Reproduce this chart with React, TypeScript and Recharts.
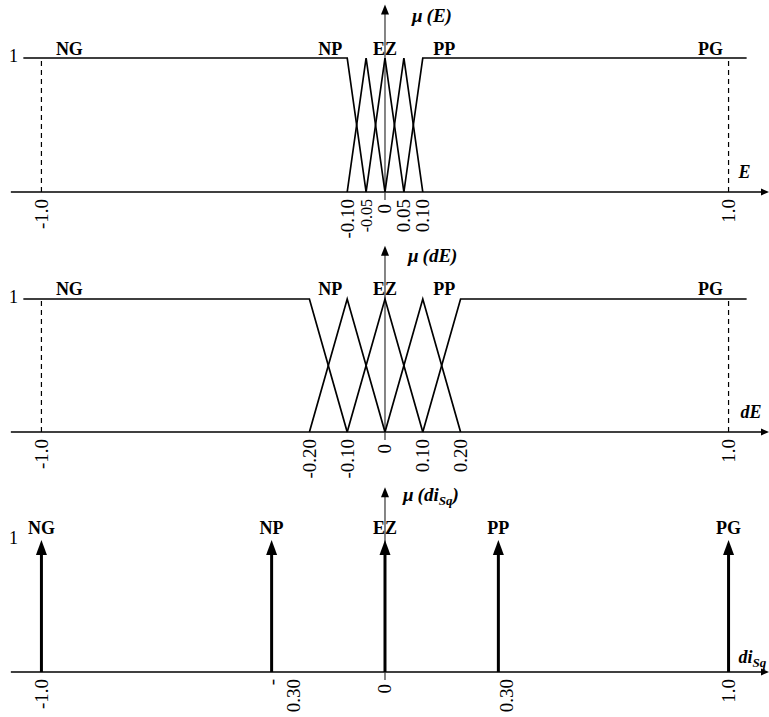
import React from 'react';
import { LineChart, Line, XAxis, YAxis, ReferenceLine, ReferenceDot } from 'recharts';

const SERIF = '"Liberation Serif", "Times New Roman", Times, serif';
const INK = '#000';

// Linguistic terms shared by the three universes
const TERMS = ['NG', 'NP', 'EZ', 'PP', 'PG'];

type Pt = { x: number; y: number };
const pts = (xs: number[], mu: number[]): Pt[] => xs.map((x, i) => ({ x, y: mu[i] }));

// Error E: breakpoints / membership grades of each set
const E_NG = pts([-1.055, -0.1, -0.05], [1, 1, 0]);
const E_NP = pts([-0.1, -0.05, 0], [0, 1, 0]);
const E_EZ = pts([-0.05, 0, 0.05], [0, 1, 0]);
const E_PP = pts([0, 0.05, 0.1], [0, 1, 0]);
const E_PG = pts([0.05, 0.1, 1.055], [0, 1, 1]);
const E_TICKS = [-1, -0.1, -0.05, 0, 0.05, 0.1, 1];
const E_TICK_LABELS = ['-1.0', '-0.10', '-0.05', '0', '0.05', '0.10', '1.0'];

// Change of error dE
const DE_NG = pts([-1.055, -0.2, -0.1], [1, 1, 0]);
const DE_NP = pts([-0.2, -0.1, 0], [0, 1, 0]);
const DE_EZ = pts([-0.1, 0, 0.1], [0, 1, 0]);
const DE_PP = pts([0, 0.1, 0.2], [0, 1, 0]);
const DE_PG = pts([0.1, 0.2, 1.055], [0, 1, 1]);
const DE_TICKS = [-1, -0.2, -0.1, 0, 0.1, 0.2, 1];
const DE_TICK_LABELS = ['-1.0', '-0.20', '-0.10', '0', '0.10', '0.20', '1.0'];

// Output di_Sq: singletons
const DI_X = [-1, -0.3, 0, 0.3, 1];
const DI_MU = [1, 1, 1, 1, 1];
const DI_TICKS = [-1, -0.3, 0, 0.3, 1];
const DI_TICK_LABELS = ['-1.0', '-\n0.30', '0', '0.30', '1.0'];
const DI_POINTS = pts(DI_X, DI_MU);

// ---- layout / style ----
const W = 769;
const PLOT_BOTTOM = 192;
const X_DOMAIN: [number, number] = [-1.126, 1.123];
const BASELINE_FROM = -1.093;
const Y_AXIS_SPAN = [-0.06, 1.4];
const ONE_LABEL_X = -1.085;
const SHOULDER_LABEL_X = [-0.915, -0.145, 0, 0.157, 0.945];
const TICK_FONT = 19;
const SMALL_TICKS: Record<string, number> = { '-0.05': 16 };
const TICK_DX: Record<string, number> = { '0.30': 8 };
const TICK_DY: Record<string, number> = { '0': 5 };

// Schematic abscissa: the band |x| <= 0.3 is stretched so the narrow sets near zero stay legible.
const WARP_IN = [-1, -0.3, 0.3, 1];
const WARP_OUT = [-1, -0.33, 0.33, 1];

function warp(v: number): number {
  let i = 0;
  while (i < WARP_IN.length - 2 && v > WARP_IN[i + 1]) i++;
  const t = (v - WARP_IN[i]) / (WARP_IN[i + 1] - WARP_IN[i]);
  return WARP_OUT[i] + t * (WARP_OUT[i + 1] - WARP_OUT[i]);
}

function schematicScale(): any {
  let dom: number[] = [0, 1];
  let rng: number[] = [0, 1];
  const scale: any = (v: number) => {
    const w0 = warp(dom[0]);
    const w1 = warp(dom[dom.length - 1]);
    return rng[0] + ((warp(Number(v)) - w0) / (w1 - w0)) * (rng[rng.length - 1] - rng[0]);
  };
  scale.domain = (d?: any[]) => {
    if (d === undefined) return dom.slice();
    dom = d.map(Number);
    return scale;
  };
  scale.range = (r?: any[]) => {
    if (r === undefined) return rng.slice();
    rng = r.map(Number);
    return scale;
  };
  scale.copy = () => schematicScale().domain(dom).range(rng);
  scale.ticks = () => dom.slice();
  scale.nice = () => scale;
  scale.clamp = () => scale;
  return scale;
}

// ---- shapes ----
const HArrow = (p: any) => {
  const { x1, y1, x2, y2 } = p;
  return (
    <g>
      <line x1={x1} y1={y1} x2={x2 - 6} y2={y2} stroke={INK} strokeWidth={1.6} />
      <polygon points={`${x2},${y2} ${x2 - 8},${y2 - 3.5} ${x2 - 8},${y2 + 3.5}`} fill={INK} />
    </g>
  );
};

const VArrow = (p: any) => {
  const { x1, y1, x2, y2 } = p;
  return (
    <g>
      <line x1={x1} y1={y1} x2={x2} y2={y2 + 6} stroke="#333" strokeWidth={1.2} />
      <polygon points={`${x2},${y2} ${x2 - 4},${y2 + 10} ${x2 + 4},${y2 + 10}`} fill={INK} />
    </g>
  );
};

const Impulse = (p: any) => {
  const { x1, y1, x2, y2 } = p;
  return (
    <g>
      <line x1={x1} y1={y1} x2={x2} y2={y2 + 12} stroke={INK} strokeWidth={3} />
      <polygon points={`${x2},${y2} ${x2 - 5.5},${y2 + 15} ${x2 + 5.5},${y2 + 15}`} fill={INK} />
    </g>
  );
};

const termText = (name: string, dy: number) => (p: any) => (
  <text x={p.cx} y={p.cy + dy} textAnchor="middle" fontFamily={SERIF} fontWeight="bold" fontSize={18} fill={INK}>
    {name}
  </text>
);

const plainText = (
  content: React.ReactNode,
  dx: number,
  dy: number,
  italicBold = false,
  anchor = 'start',
  size = 18,
) => (p: any) => (
  <text
    x={p.cx + dx}
    y={p.cy + dy}
    textAnchor={anchor}
    fontFamily={SERIF}
    fontWeight={italicBold ? 'bold' : 'normal'}
    fontStyle={italicBold ? 'italic' : 'normal'}
    fontSize={size}
    fill={INK}
  >
    {content}
  </text>
);

const makeTick = (ticks: number[], labels: string[]) => (props: any) => {
  const { x, y, payload } = props;
  const idx = ticks.indexOf(payload.value);
  const label = idx >= 0 ? labels[idx] : '';
  const size = SMALL_TICKS[label] ?? TICK_FONT;
  const dx = TICK_DX[label] ?? 0;
  const dy = TICK_DY[label] ?? 0;
  const lines = label.split('\n');
  return (
    <text
      transform={`translate(${x + dx},${y + 7 + dy}) rotate(-90)`}
      textAnchor="end"
      fontFamily={SERIF}
      fontSize={size}
      fill={INK}
    >
      {lines.map((ln, i) => (
        <tspan key={i} x={0} dy={i === 0 ? '0.34em' : '1.15em'}>
          {ln}
        </tspan>
      ))}
    </text>
  );
};

type PanelSpec = {
  top: number;
  height: number;
  plotTop: number;
  sets?: Pt[][];
  singles?: Pt[];
  ticks: number[];
  tickLabels: string[];
  termX: number[];
  termDy: number;
  muLabel: React.ReactNode;
  muDx: number;
  muDy: number;
  axisLabel: React.ReactNode;
  axisDx: number;
  axisDy: number;
};

function Panel(s: PanelSpec) {
  const scale = schematicScale();
  return (
    <div style={{ position: 'absolute', left: 0, top: s.top }}>
      <LineChart
        width={W}
        height={s.height}
        data={s.singles}
        margin={{ top: s.plotTop, right: 0, bottom: 0, left: 0 }}
      >
        <XAxis
          type="number"
          dataKey="x"
          domain={X_DOMAIN}
          scale={scale}
          ticks={s.ticks}
          interval={0}
          height={s.height - PLOT_BOTTOM}
          axisLine={false}
          tickLine={false}
          tickSize={0}
          tickMargin={0}
          tick={makeTick(s.ticks, s.tickLabels)}
        />
        <YAxis type="number" dataKey="y" domain={[0, 1]} hide />

        <ReferenceLine
          segment={[{ x: BASELINE_FROM, y: 0 }, { x: X_DOMAIN[1], y: 0 }]}
          ifOverflow="visible"
          shape={HArrow}
        />
        <ReferenceLine
          segment={[{ x: 0, y: Y_AXIS_SPAN[0] }, { x: 0, y: Y_AXIS_SPAN[1] }]}
          ifOverflow="visible"
          shape={VArrow}
        />

        {s.sets &&
          [-1, 1].map((b) => (
            <ReferenceLine
              key={`bound${b}`}
              segment={[{ x: b, y: 0 }, { x: b, y: 1 }]}
              ifOverflow="visible"
              stroke={INK}
              strokeWidth={1.2}
              strokeDasharray="5 4"
            />
          ))}

        {s.sets &&
          s.sets.map((d, i) => (
            <Line
              key={TERMS[i]}
              data={d}
              dataKey="y"
              type="linear"
              stroke={INK}
              strokeWidth={1.7}
              dot={false}
              activeDot={false}
              isAnimationActive={false}
            />
          ))}

        {s.singles &&
          s.singles.map((p, i) => (
            <ReferenceLine
              key={`imp${TERMS[i]}`}
              segment={[{ x: p.x, y: 0 }, { x: p.x, y: p.y }]}
              ifOverflow="visible"
              shape={Impulse}
            />
          ))}

        {TERMS.map((t, i) => (
          <ReferenceDot
            key={`lbl${t}`}
            x={s.termX[i]}
            y={1}
            ifOverflow="visible"
            shape={termText(t, s.termDy)}
          />
        ))}

        <ReferenceDot x={ONE_LABEL_X} y={1} ifOverflow="visible" shape={plainText('1', 0, 4, false, 'middle')} />
        <ReferenceDot
          x={0}
          y={1}
          ifOverflow="visible"
          shape={plainText(s.muLabel, s.muDx, s.muDy, true, 'start', 19)}
        />
        <ReferenceDot x={1} y={0} ifOverflow="visible" shape={plainText(s.axisLabel, s.axisDx, s.axisDy, true)} />
      </LineChart>
    </div>
  );
}

const sub = (t: string) => (
  <tspan fontSize={13} dy={4}>
    {t}
  </tspan>
);

export default function App() {
  return (
    <div style={{ position: 'absolute', left: 0, top: 0, width: W, height: 717, background: '#fff' }}>
      <Panel
        top={0}
        height={242}
        plotTop={58}
        sets={[E_NG, E_NP, E_EZ, E_PP, E_PG]}
        ticks={E_TICKS}
        tickLabels={E_TICK_LABELS}
        termX={SHOULDER_LABEL_X}
        termDy={-3}
        muLabel={
          <>
            <tspan>μ</tspan>
            <tspan dx={4}>(E)</tspan>
          </>
        }
        muDx={27}
        muDy={-36}
        axisLabel="E"
        axisDx={10}
        axisDy={-14}
      />
      <Panel
        top={240}
        height={242}
        plotTop={59}
        sets={[DE_NG, DE_NP, DE_EZ, DE_PP, DE_PG]}
        ticks={DE_TICKS}
        tickLabels={DE_TICK_LABELS}
        termX={SHOULDER_LABEL_X}
        termDy={-4}
        muLabel={
          <>
            <tspan>μ</tspan>
            <tspan dx={4}>(dE)</tspan>
          </>
        }
        muDx={23}
        muDy={-37}
        axisLabel="dE"
        axisDx={12}
        axisDy={-14}
      />
      <Panel
        top={480}
        height={237}
        plotTop={60}
        singles={DI_POINTS}
        ticks={DI_TICKS}
        tickLabels={DI_TICK_LABELS}
        termX={DI_X}
        termDy={-6}
        muLabel={
          <>
            <tspan>μ</tspan>
            <tspan dx={4}>(di</tspan>
            {sub('Sq')}
            <tspan dy={-4}>)</tspan>
          </>
        }
        muDx={18}
        muDy={-39}
        axisLabel={
          <>
            <tspan>di</tspan>
            {sub('Sq')}
          </>
        }
        axisDx={10}
        axisDy={-9}
      />
    </div>
  );
}
